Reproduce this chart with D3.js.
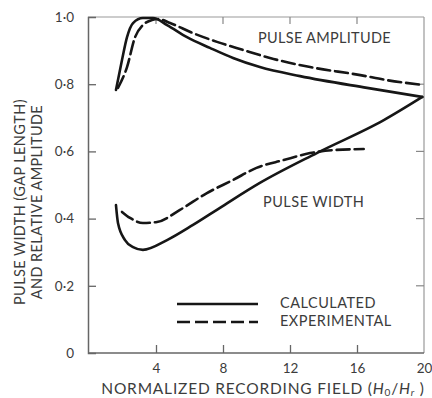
<!DOCTYPE html>
<html>
<head>
<meta charset="utf-8">
<script src="https://cdn.jsdelivr.net/npm/d3@7"></script>
<style>
	body { margin: 0; background: #fff; }
	text { font-family: Lato, "DejaVu Sans", sans-serif; fill: #3c3c3c; }
</style>
</head>
<body>
<svg class="chart"></svg>
<script>
// curves, x = H0/Hr, y = relative value
var ampCalcX = [1.61, 1.97, 2.27, 2.63, 3.22, 3.82, 4.66, 5.85, 7.22, 8.6, 10.2, 12.6, 16.6, 19.9];
var ampCalcY = [0.783, 0.872, 0.94, 0.982, 0.997, 0.997, 0.976, 0.94, 0.908, 0.878, 0.851, 0.824, 0.789, 0.762];

var ampExpX = [1.73, 2.27, 2.75, 3.22, 3.76, 4.12, 4.84, 6.21, 7.64, 9.19, 10.8, 13.2, 16.2, 17.8, 19.9];
var ampExpY = [0.789, 0.851, 0.94, 0.976, 0.991, 0.994, 0.982, 0.952, 0.926, 0.902, 0.878, 0.851, 0.827, 0.812, 0.798];

var widthCalcX = [1.61, 1.73, 2.15, 2.63, 3.22, 4.66, 6.21, 7.82, 10.2, 13.6, 17.6, 19.9];
var widthCalcY = [0.44, 0.387, 0.336, 0.315, 0.307, 0.336, 0.381, 0.432, 0.506, 0.595, 0.693, 0.762];

var widthExpX = [1.97, 2.45, 3.22, 4.06, 5.43, 7.04, 8.6, 10.0, 11.6, 13.2, 14.6, 16.4];
var widthExpY = [0.42, 0.402, 0.387, 0.39, 0.426, 0.476, 0.515, 0.551, 0.574, 0.595, 0.604, 0.607];

var xTicks = [4, 8, 12, 16, 20];
var yTicks = [0, 0.2, 0.4, 0.6, 0.8, 1.0];
var curveLabels = ['PULSE AMPLITUDE', 'PULSE WIDTH'];
var legendLabels = ['CALCULATED', 'EXPERIMENTAL'];

var W = 432, H = 398;
var margin = {top: 17, right: 8, bottom: 45, left: 89};

var svg = d3.select('.chart').attr('width', W).attr('height', H);

var x = d3.scaleLinear().domain([0, 20]).range([margin.left, W - margin.right]);
var y = d3.scaleLinear().domain([0, 1]).range([H - margin.bottom, margin.top]);

// frame (top and right are lighter)
svg.append('line').attr('x1', x(0) - 1).attr('x2', x(20)).attr('y1', y(1)).attr('y2', y(1))
	.attr('stroke', '#999').attr('stroke-width', 1.2);
svg.append('line').attr('x1', x(20)).attr('x2', x(20)).attr('y1', y(1)).attr('y2', y(0))
	.attr('stroke', '#999').attr('stroke-width', 1.2);

// bottom axis, ticks point up
var xAxis = d3.axisBottom(x).tickValues(xTicks).tickSize(-8).tickPadding(10)
	.tickFormat(d3.format('d'));
var gx = svg.append('g').attr('transform', 'translate(0,' + y(0) + ')').call(xAxis);
gx.select('.domain').attr('d', 'M' + (x(0) - 1) + ',0H' + x(20));

// left axis, ticks point right
var yAxis = d3.axisLeft(y).tickValues(yTicks).tickSize(-8).tickPadding(14)
	.tickFormat(function(d) { return d === 0 ? '0' : d3.format('.1f')(d).replace('.', '\u00b7'); });
var gy = svg.append('g').attr('transform', 'translate(' + (x(0) - 1) + ',0)').call(yAxis);

[gx, gy].forEach(function(g) {
	g.select('.domain').attr('stroke', '#666').attr('stroke-width', 1.5);
	g.selectAll('.tick line').attr('stroke', '#666').attr('stroke-width', 1.3);
	g.selectAll('.tick text').attr('fill', '#3c3c3c').style('font-size', '13.5px')
		.style('font-family', 'Lato, sans-serif');
});
gx.selectAll('.tick').filter(function(d) { return d === 20; }).select('line').remove();
gy.selectAll('.tick').filter(function(d) { return d === 0 || d === 1; }).select('line').remove();

// top and right inner ticks
svg.append('g').selectAll('line').data(xTicks.slice(0, 4)).enter().append('line')
	.attr('x1', function(d) { return x(d); }).attr('x2', function(d) { return x(d); })
	.attr('y1', y(1)).attr('y2', y(1) + 7)
	.attr('stroke', '#888').attr('stroke-width', 1.2);
svg.append('g').selectAll('line').data(yTicks.slice(1, 5)).enter().append('line')
	.attr('x1', x(20)).attr('x2', x(20) - 8)
	.attr('y1', function(d) { return y(d); }).attr('y2', function(d) { return y(d); })
	.attr('stroke', '#888').attr('stroke-width', 1.2);

// curves
var line = d3.line()
	.x(function(d) { return x(d[0]); })
	.y(function(d) { return y(d[1]); })
	.curve(d3.curveMonotoneX);

var series = [
	{xs: ampCalcX, ys: ampCalcY, dash: null},
	{xs: ampExpX, ys: ampExpY, dash: '13,5'},
	{xs: widthCalcX, ys: widthCalcY, dash: null},
	{xs: widthExpX, ys: widthExpY, dash: '13,5'}
];
series.forEach(function(s) {
	svg.append('path')
		.datum(d3.zip(s.xs, s.ys))
		.attr('d', line)
		.attr('fill', 'none')
		.attr('stroke', '#161616')
		.attr('stroke-width', 2.6)
		.attr('stroke-linecap', 'round')
		.attr('stroke-dasharray', s.dash);
});

// curve labels
svg.append('text').attr('x', 258).attr('y', 43).style('font-size', '14.5px')
	.style('letter-spacing', '0.3px').text(curveLabels[0]);
svg.append('text').attr('x', 263).attr('y', 207).style('font-size', '14.5px')
	.style('letter-spacing', '0.5px').text(curveLabels[1]);

// legend
var legendY = [304, 322];
legendLabels.forEach(function(t, i) {
	svg.append('line').attr('x1', 177).attr('x2', 258).attr('y1', legendY[i]).attr('y2', legendY[i])
		.attr('stroke', '#161616').attr('stroke-width', 2.6)
		.attr('stroke-dasharray', i === 1 ? '13,5' : null);
	svg.append('text').attr('x', 280).attr('y', legendY[i] + 4).style('font-size', '14.5px')
		.style('letter-spacing', '0.5px').text(t);
});

// axis titles
var xt = svg.append('text').attr('x', 263).attr('y', 394).attr('text-anchor', 'middle')
	.style('font-size', '15.5px').style('letter-spacing', '0.8px');
xt.append('tspan').text('NORMALIZED RECORDING FIELD  (');
xt.append('tspan').style('font-style', 'italic').text('H');
xt.append('tspan').attr('dy', 1.5).style('font-size', '10px').text('0');
xt.append('tspan').attr('dy', -1.5).text('/');
xt.append('tspan').style('font-style', 'italic').text('H');
xt.append('tspan').attr('dy', 1.5).style('font-size', '10px').style('font-style', 'italic').text('r');
xt.append('tspan').attr('dy', -1.5).text(' )');

var yt = svg.append('text').attr('transform', 'translate(25,202) rotate(-90)')
	.attr('text-anchor', 'middle').style('font-size', '14.5px').style('letter-spacing', '0.4px');
yt.append('tspan').attr('x', 0).attr('y', 0).text('PULSE WIDTH (GAP LENGTH)');
yt.append('tspan').attr('x', 0).attr('y', 17).text('AND RELATIVE AMPLITUDE');
</script>
</body>
</html>
